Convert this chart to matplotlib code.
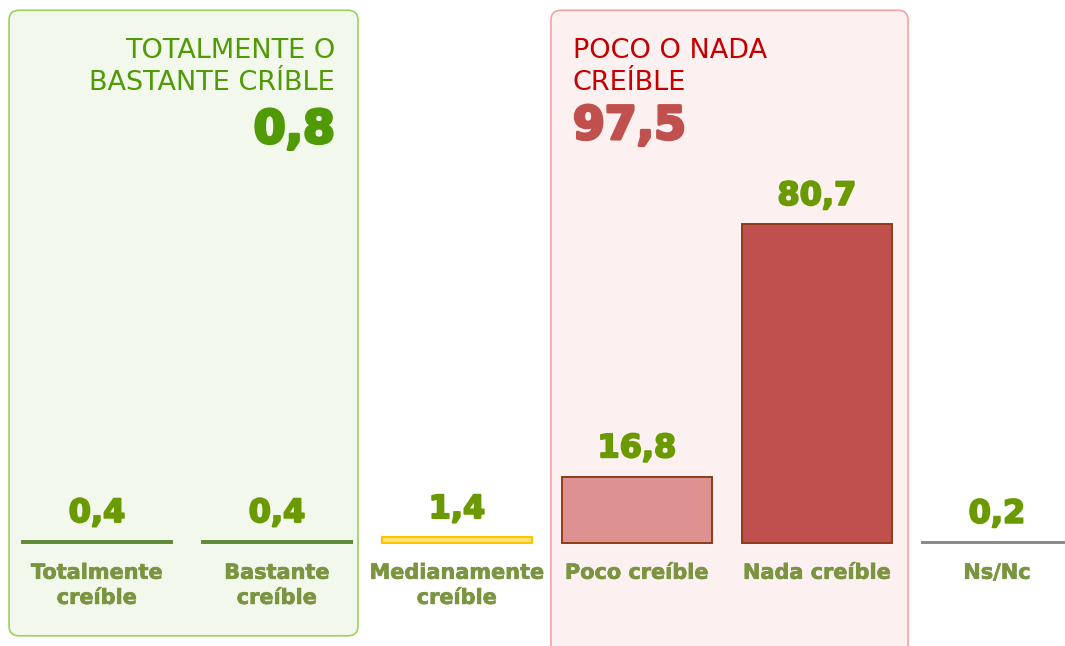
import matplotlib.pyplot as plt
import matplotlib.patheffects as pe
from matplotlib.patches import FancyBboxPatch

categories = ['Totalmente\ncreíble', 'Bastante\ncreíble', 'Medianamente\ncreíble',
              'Poco creíble', 'Nada creíble', 'Ns/Nc']
values = [0.4, 0.4, 1.4, 16.8, 80.7, 0.2]
value_labels = ['0,4', '0,4', '1,4', '16,8', '80,7', '0,2']

group_titles = ['TOTALMENTE O\nBASTANTE CRÍBLE', 'POCO O NADA\nCREÍBLE']
group_totals = ['0,8', '97,5']

fill_colors = ['#5f8a3a', '#5f8a3a', '#ffe56e', '#dd9191', '#c0504d', '#8a8a8a']
edge_colors = ['#5f8a3a', '#5f8a3a', '#ffc000', '#8e3b17', '#8e3b17', '#8a8a8a']

plt.rcParams['font.family'] = ['DejaVu Sans']


def heavy(color, w):
    # thicken the glyphs a little, the original uses an extra-bold face
    return [pe.withStroke(linewidth=w, foreground=color)]


fig = plt.figure(figsize=(10.65, 6.46), dpi=100)
ax = fig.add_axes([0, 0, 1, 1])
ax.set_xlim(-0.539, 5.378)
ax.set_ylim(-26.08, 137.5)
ax.axis('off')

# group boxes
ax.add_patch(FancyBboxPatch((-0.489, -23.5), 1.939, 158.4,
                            boxstyle='round,pad=0,rounding_size=0.055',
                            mutation_aspect=180 / 3.95,
                            facecolor='#f3f8ed', edgecolor='#9ed25e', lw=1.2, zorder=0))
ax.add_patch(FancyBboxPatch((2.522, -28), 1.984, 162.9,
                            boxstyle='round,pad=0,rounding_size=0.055',
                            mutation_aspect=180 / 3.95,
                            facecolor='#fdf0f0', edgecolor='#f4a3a3', lw=1.2, zorder=0))

x = list(range(len(categories)))
ax.bar(x, values, width=0.833, color=fill_colors, edgecolor=edge_colors, linewidth=1.4, zorder=2)

for xi, v, lab in zip(x, values, value_labels):
    ax.annotate(lab, (xi, v), xytext=(0, 14), textcoords='offset points',
                ha='center', va='baseline', fontsize=23, fontweight='bold',
                color='#6a9a00', path_effects=heavy('#6a9a00', 1.4))

for xi, cat in zip(x, categories):
    ax.text(xi, -5.0, cat, ha='center', va='top', fontsize=15, fontweight='bold',
            color='#7a9440', linespacing=1.32, path_effects=heavy('#7a9440', 0.5))

# group headers
ax.text(1.322, 127.8, group_titles[0], ha='right', va='top', fontsize=19.5,
        color='#4f9a05', linespacing=1.3)
ax.text(1.322, 101.3, group_totals[0], ha='right', va='baseline', fontsize=33,
        fontweight='bold', color='#4f9a05', path_effects=heavy('#4f9a05', 2.2))
ax.text(2.644, 127.8, group_titles[1], ha='left', va='top', fontsize=19.5,
        color='#c50000', linespacing=1.3)
ax.text(2.644, 102.3, group_totals[1], ha='left', va='baseline', fontsize=33,
        fontweight='bold', color='#c0504d', path_effects=heavy('#c0504d', 2.2))

fig.savefig('out.png', dpi=100)
